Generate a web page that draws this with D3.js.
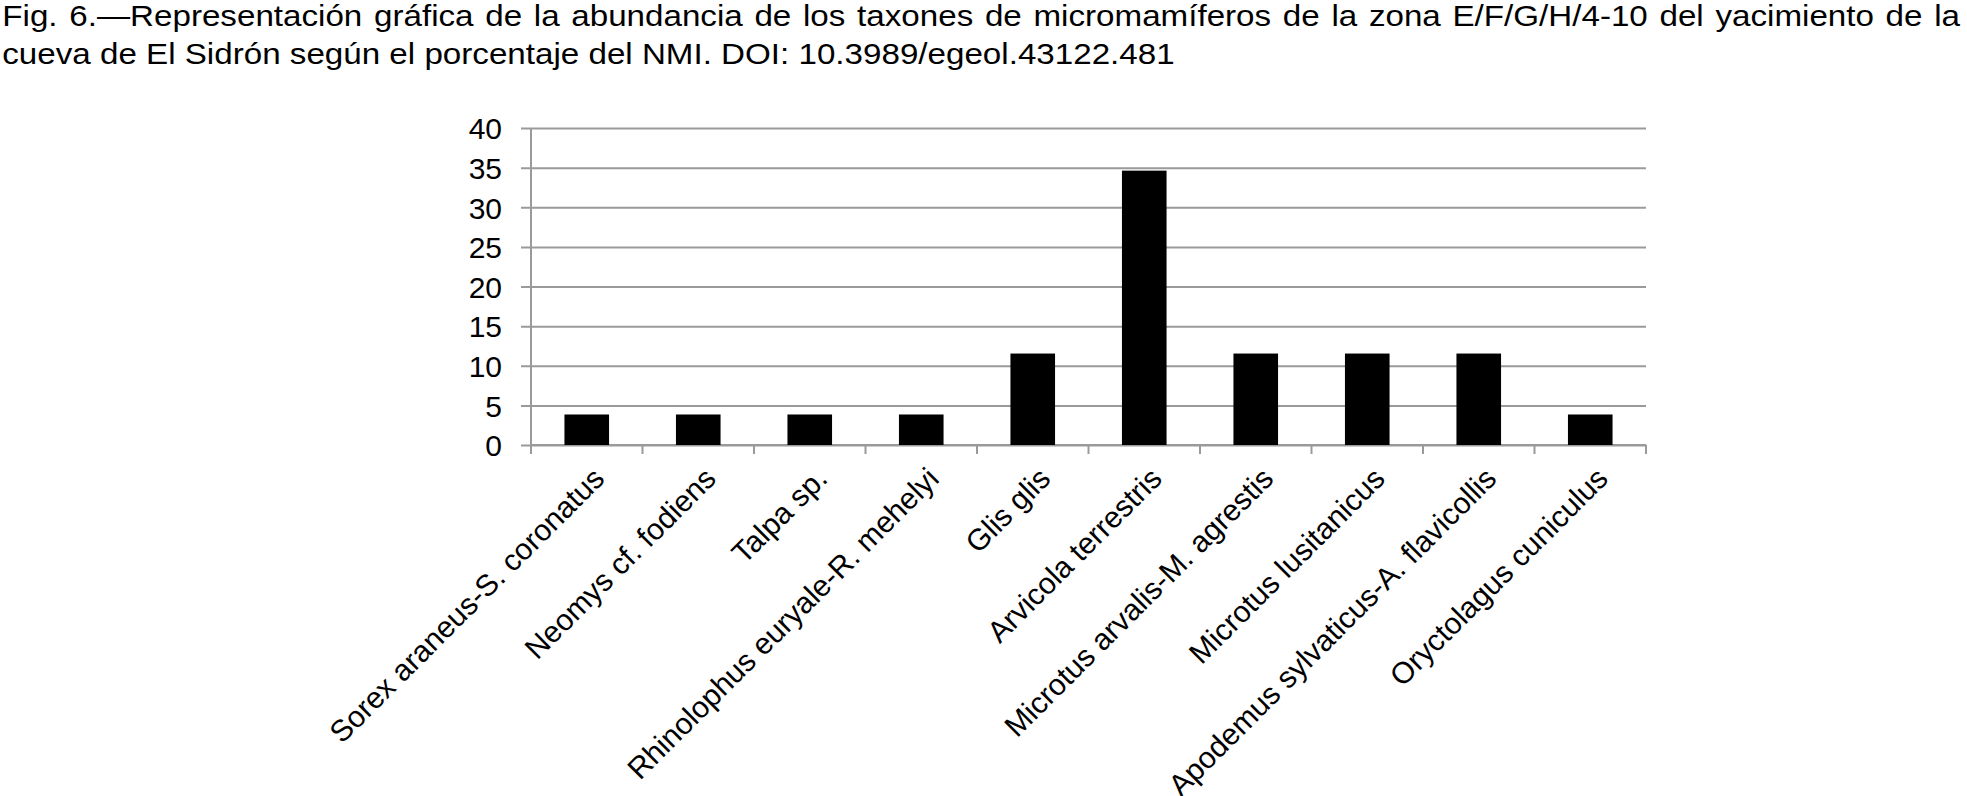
<!DOCTYPE html>
<html lang="es">
<head>
  <meta charset="UTF-8" />
  <title>Fig. 6 - El Sidrón micromamíferos</title>
  <style>
    body {
      margin: 0;
      background: #fff;
      font-family: "Liberation Sans", Arial, sans-serif;
    }
    svg {
      display: block;
    }
    .grid line {
      stroke: #9a9a9a;
      stroke-width: 2px;
    }
    .axis-line {
      stroke: #9a9a9a;
      stroke-width: 2px;
      fill: none;
    }
    .tick-label {
      font-size: 30px;
      fill: #000;
    }
    .title {
      font-size: 29px;
      fill: #000;
    }
  </style>
</head>
<body>
  <svg width="1967" height="796"></svg>
  <script src="https://d3js.org/d3.v7.min.js"></script>
  <script>
    const titleLines = [
      "Fig. 6.\u2014Representación gráfica de la abundancia de los taxones de micromamíferos de la zona E/F/G/H/4-10 del yacimiento de la",
      "cueva de El Sidrón según el porcentaje del NMI. DOI: 10.3989/egeol.43122.481"
    ];

    const categories = [
      "Sorex araneus-S. coronatus",
      "Neomys cf. fodiens",
      "Talpa sp.",
      "Rhinolophus euryale-R. mehelyi",
      "Glis glis",
      "Arvicola terrestris",
      "Microtus arvalis-M. agrestis",
      "Microtus lusitanicus",
      "Apodemus sylvaticus-A. flavicollis",
      "Oryctolagus cuniculus"
    ];

    // % NMI
    const values = [3.85, 3.85, 3.85, 3.85, 11.54, 34.62, 11.54, 11.54, 11.54, 3.85];

    const yTicks = [0, 5, 10, 15, 20, 25, 30, 35, 40];

    const svg = d3.select("svg");

    const plotLeft = 531, plotRight = 1646, plotTop = 128, plotBottom = 445;

    const x = d3.scaleBand()
      .domain(categories)
      .range([plotLeft, plotRight])
      .paddingInner(0.6)
      .paddingOuter(0.3);

    const y = d3.scaleLinear()
      .domain([0, 40])
      .range([plotBottom, plotTop]);

    // title: the scanned caption is a bit wider than Arial, so stretch it
    // horizontally; first line is justified to the page width
    const title = svg.append("g");
    const titleText = titleLines.map((line, i) => title.append("text")
      .attr("class", "title")
      .attr("x", 2)
      .attr("y", i === 0 ? 25.5 : 64)
      .text(line));
    const sx = 1173 / titleText[1].node().getComputedTextLength();
    titleText.forEach(t => t.attr("transform", `scale(${sx},1)`));
    const natural = titleText[0].node().getComputedTextLength();
    const spaces = titleLines[0].split(" ").length - 1;
    titleText[0].style("word-spacing", ((1960 / sx - 2 - natural) / spaces) + "px");

    // gridlines + y labels
    const yAxis = svg.append("g")
      .attr("class", "grid")
      .attr("transform", `translate(${plotLeft},0)`)
      .call(d3.axisLeft(y)
        .tickValues(yTicks)
        .tickSizeInner(-(plotRight - plotLeft))
        .tickSizeOuter(0)
        .tickPadding(29));
    yAxis.select(".domain").remove();
    yAxis.selectAll(".tick line").attr("x1", -10);
    yAxis.selectAll(".tick text")
      .attr("class", "tick-label")
      .attr("dy", "0.36em");
    yAxis.attr("font-family", null).attr("font-size", null);

    // vertical axis line
    svg.append("line")
      .attr("class", "axis-line")
      .attr("x1", plotLeft).attr("x2", plotLeft)
      .attr("y1", y(40)).attr("y2", y(0));

    // baseline with ticks between categories
    svg.append("line")
      .attr("class", "axis-line")
      .attr("x1", plotLeft).attr("x2", plotRight)
      .attr("y1", y(0)).attr("y2", y(0));

    const edges = d3.range(categories.length + 1).map(i => plotLeft + i * x.step());
    svg.append("g").selectAll("line")
      .data(edges).enter().append("line")
      .attr("class", "axis-line")
      .attr("x1", d => d).attr("x2", d => d)
      .attr("y1", y(0)).attr("y2", y(0) + 9);

    // bars
    svg.append("g").selectAll("rect")
      .data(values).enter().append("rect")
      .attr("x", (d, i) => x(categories[i]))
      .attr("y", d => y(d))
      .attr("width", x.bandwidth())
      .attr("height", d => y(0) - y(d))
      .attr("fill", "#000");

    // rotated category labels
    svg.append("g").selectAll("text")
      .data(categories).enter().append("text")
      .attr("class", "tick-label")
      .attr("text-anchor", "end")
      .attr("transform", d => `translate(${x(d) + x.bandwidth() / 2 + 12},${y(0) + 28}) rotate(-45)`)
      .attr("dy", "0.35em")
      .text(d => d);
  </script>
</body>
</html>
